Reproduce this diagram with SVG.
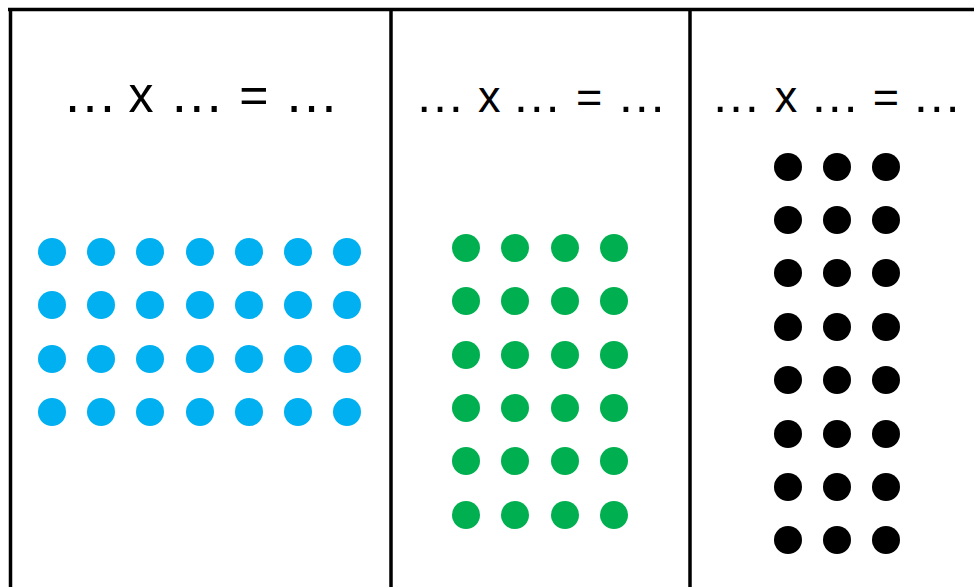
<svg xmlns="http://www.w3.org/2000/svg" width="974" height="587" viewBox="0 0 974 587">
<style>
.frame{stroke:#000;stroke-width:3.5;fill:none}
.eq{font-family:"Liberation Sans",Arial,sans-serif;fill:#000}
.e1{font-size:55px}.s1{font-size:50px}
.e2{font-size:50px}.s2{font-size:45px}
.b{fill:#00B0F0}.g{fill:#00B050}.k{fill:#000}
</style>
<defs>
<circle id="d" r="14"/>
</defs>
<rect width="974" height="587" fill="#fff"/>
<g id="frame" class="frame">
<line x1="8" y1="9.5" x2="974" y2="9.5"/>
<line x1="10.5" y1="8" x2="10.5" y2="587"/>
<line x1="391" y1="8" x2="391" y2="587"/>
<line x1="690" y1="8" x2="690" y2="587"/>
</g>
<g id="panel1">
<text class="eq" y="112"><tspan class="e1" x="62.5">…</tspan> <tspan class="s1" x="128.5">x</tspan> <tspan class="e1" x="169.2">…</tspan> <tspan class="s1" x="239.2">=</tspan> <tspan class="e1" x="284.1">…</tspan></text>
<g class="b">
<use href="#d" x="52" y="252"/><use href="#d" x="101" y="252"/><use href="#d" x="150" y="252"/><use href="#d" x="200" y="252"/><use href="#d" x="249" y="252"/><use href="#d" x="298" y="252"/><use href="#d" x="347" y="252"/>
<use href="#d" x="52" y="305"/><use href="#d" x="101" y="305"/><use href="#d" x="150" y="305"/><use href="#d" x="200" y="305"/><use href="#d" x="249" y="305"/><use href="#d" x="298" y="305"/><use href="#d" x="347" y="305"/>
<use href="#d" x="52" y="359"/><use href="#d" x="101" y="359"/><use href="#d" x="150" y="359"/><use href="#d" x="200" y="359"/><use href="#d" x="249" y="359"/><use href="#d" x="298" y="359"/><use href="#d" x="347" y="359"/>
<use href="#d" x="52" y="412"/><use href="#d" x="101" y="412"/><use href="#d" x="150" y="412"/><use href="#d" x="200" y="412"/><use href="#d" x="249" y="412"/><use href="#d" x="298" y="412"/><use href="#d" x="347" y="412"/>
</g>
</g>
<g id="panel2">
<text class="eq" y="112"><tspan class="e2" x="415">…</tspan> <tspan class="s2" x="478">x</tspan> <tspan class="e2" x="511.7">…</tspan> <tspan class="s2" x="576">=</tspan> <tspan class="e2" x="616.7">…</tspan></text>
<g class="g">
<use href="#d" x="466" y="248"/><use href="#d" x="515" y="248"/><use href="#d" x="565" y="248"/><use href="#d" x="614" y="248"/>
<use href="#d" x="466" y="301"/><use href="#d" x="515" y="301"/><use href="#d" x="565" y="301"/><use href="#d" x="614" y="301"/>
<use href="#d" x="466" y="355"/><use href="#d" x="515" y="355"/><use href="#d" x="565" y="355"/><use href="#d" x="614" y="355"/>
<use href="#d" x="466" y="408"/><use href="#d" x="515" y="408"/><use href="#d" x="565" y="408"/><use href="#d" x="614" y="408"/>
<use href="#d" x="466" y="461"/><use href="#d" x="515" y="461"/><use href="#d" x="565" y="461"/><use href="#d" x="614" y="461"/>
<use href="#d" x="466" y="515"/><use href="#d" x="515" y="515"/><use href="#d" x="565" y="515"/><use href="#d" x="614" y="515"/>
</g>
</g>
<g id="panel3">
<text class="eq" y="112"><tspan class="e2" x="711">…</tspan> <tspan class="s2" x="774.7">x</tspan> <tspan class="e2" x="809.7">…</tspan> <tspan class="s2" x="872.7">=</tspan> <tspan class="e2" x="911.7">…</tspan></text>
<g class="k">
<use href="#d" x="788" y="167"/><use href="#d" x="837" y="167"/><use href="#d" x="886" y="167"/>
<use href="#d" x="788" y="220"/><use href="#d" x="837" y="220"/><use href="#d" x="886" y="220"/>
<use href="#d" x="788" y="273"/><use href="#d" x="837" y="273"/><use href="#d" x="886" y="273"/>
<use href="#d" x="788" y="327"/><use href="#d" x="837" y="327"/><use href="#d" x="886" y="327"/>
<use href="#d" x="788" y="380"/><use href="#d" x="837" y="380"/><use href="#d" x="886" y="380"/>
<use href="#d" x="788" y="434"/><use href="#d" x="837" y="434"/><use href="#d" x="886" y="434"/>
<use href="#d" x="788" y="487"/><use href="#d" x="837" y="487"/><use href="#d" x="886" y="487"/>
<use href="#d" x="788" y="540"/><use href="#d" x="837" y="540"/><use href="#d" x="886" y="540"/>
</g>
</g>
</svg>
